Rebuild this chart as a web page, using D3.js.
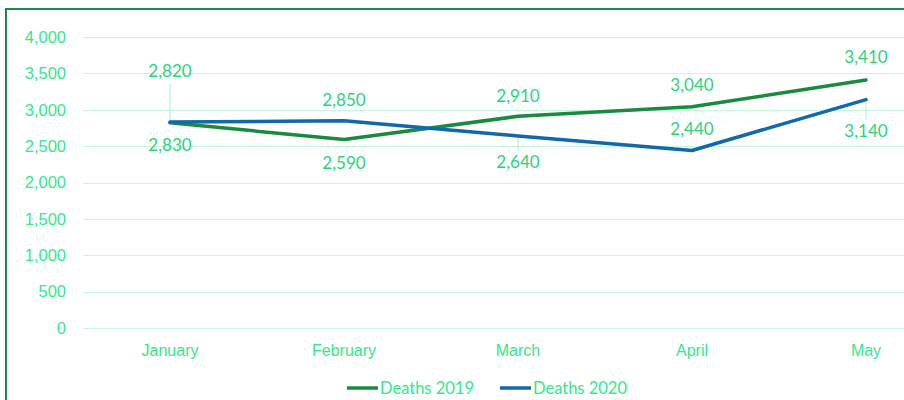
<!DOCTYPE html>
<html>
<head>
<meta charset="utf-8">
<script src="https://cdn.jsdelivr.net/npm/d3@7"></script>
<style>
  body { margin: 0; background: #fff; }
  svg { display: block; font-family: Lato, "Open Sans", sans-serif; }
</style>
</head>
<body>
<script>
// Data
var months = ["January", "February", "March", "April", "May"];
var deaths2019 = [2820, 2590, 2910, 3040, 3410];
var deaths2020 = [2830, 2850, 2640, 2440, 3140];
var yTicks = [0, 500, 1000, 1500, 2000, 2500, 3000, 3500, 4000];
var seriesNames = ["Deaths 2019", "Deaths 2020"];

// Label placement (pixel offsets from point, leader = draw leader line)
var labelDy2019 = [-52, 23, -21, -22, -23];
var leader2019 = [true, false, false, false, false];
var labelDy2020 = [22, -21, 26, -22, 31];
var leader2020 = [false, false, true, false, true];

var width = 904, height = 400;
var textColor = "#35e88c";
var labelColor = "#2bd47c";
var gridColor = "#c6f8e0";
var colors = ["#1a8a3e", "#1268ad"];

var svg = d3.select("body").append("svg")
  .attr("width", width)
  .attr("height", height);

// outer chart border (cropped at right / bottom)
svg.append("rect")
  .attr("x", 6).attr("y", 9)
  .attr("width", 1000).attr("height", 1000)
  .attr("fill", "none")
  .attr("stroke", "#1e8a46")
  .attr("stroke-width", 2);

var x = d3.scaleBand()
  .domain(months)
  .range([83, 953]);

var y = d3.scaleLinear()
  .domain([0, 4000])
  .range([328, 37]);

// gridlines
svg.append("g")
  .selectAll("line")
  .data(yTicks)
  .enter()
  .append("line")
  .attr("x1", 83).attr("x2", width)
  .attr("y1", function(d) { return Math.round(y(d)) + 0.5; })
  .attr("y2", function(d) { return Math.round(y(d)) + 0.5; })
  .attr("stroke", gridColor)
  .attr("stroke-width", 1);

// y axis
var yAxis = svg.append("g")
  .attr("transform", "translate(66,0)")
  .call(d3.axisLeft(y).tickValues(yTicks).tickSize(0).tickPadding(0).tickFormat(d3.format(",")));
yAxis.select(".domain").remove();
yAxis.selectAll("text")
  .attr("fill", textColor)
  .style("font-size", "16.5px");

// x axis
var xAxis = svg.append("g")
  .attr("transform", "translate(0,340)")
  .call(d3.axisBottom(x).tickSize(0).tickPadding(5));
xAxis.select(".domain").remove();
xAxis.selectAll("text")
  .attr("fill", textColor)
  .style("font-size", "16px");

var cx = function(i) { return x(months[i]) + x.bandwidth() / 2; };

var series = [
  { name: seriesNames[0], values: deaths2019, dy: labelDy2019, leader: leader2019, color: colors[0] },
  { name: seriesNames[1], values: deaths2020, dy: labelDy2020, leader: leader2020, color: colors[1] }
];

var line = d3.line()
  .x(function(d, i) { return cx(i); })
  .y(function(d) { return y(d); });

// leader lines
series.forEach(function(s) {
  s.values.forEach(function(v, i) {
    if (!s.leader[i]) return;
    var py = y(v);
    var ly = py + s.dy[i];
    var end = s.dy[i] < 0 ? ly + 13 : ly - 11;
    svg.append("line")
      .attr("x1", cx(i)).attr("x2", cx(i))
      .attr("y1", py).attr("y2", end)
      .attr("stroke", "#9ef5c8")
      .attr("stroke-width", 1);
  });
});

// lines
svg.selectAll(".series")
  .data(series)
  .enter()
  .append("path")
  .attr("class", "series")
  .attr("fill", "none")
  .attr("stroke", function(d) { return d.color; })
  .attr("stroke-width", 3.5)
  .attr("stroke-linejoin", "round")
  .attr("stroke-linecap", "round")
  .attr("d", function(d) { return line(d.values); });

// data labels
series.forEach(function(s) {
  svg.append("g")
    .selectAll("text")
    .data(s.values)
    .enter()
    .append("text")
    .attr("x", function(d, i) { return cx(i); })
    .attr("y", function(d, i) { return y(d) + s.dy[i]; })
    .attr("text-anchor", "middle")
    .attr("dominant-baseline", "central")
    .attr("fill", labelColor)
    .style("font-size", "17px")
    .text(function(d) { return d3.format(",")(d); });
});

// legend
var legendX = [347, 500];
var legend = svg.selectAll(".legend")
  .data(series)
  .enter()
  .append("g")
  .attr("class", "legend")
  .attr("transform", function(d, i) { return "translate(" + legendX[i] + ",388)"; });

legend.append("line")
  .attr("x1", 0).attr("x2", 31)
  .attr("stroke", function(d) { return d.color; })
  .attr("stroke-width", 3.5);

legend.append("text")
  .attr("x", 33)
  .attr("dominant-baseline", "central")
  .attr("fill", textColor)
  .style("font-size", "16.5px")
  .text(function(d) { return d.name; });
</script>
</body>
</html>
